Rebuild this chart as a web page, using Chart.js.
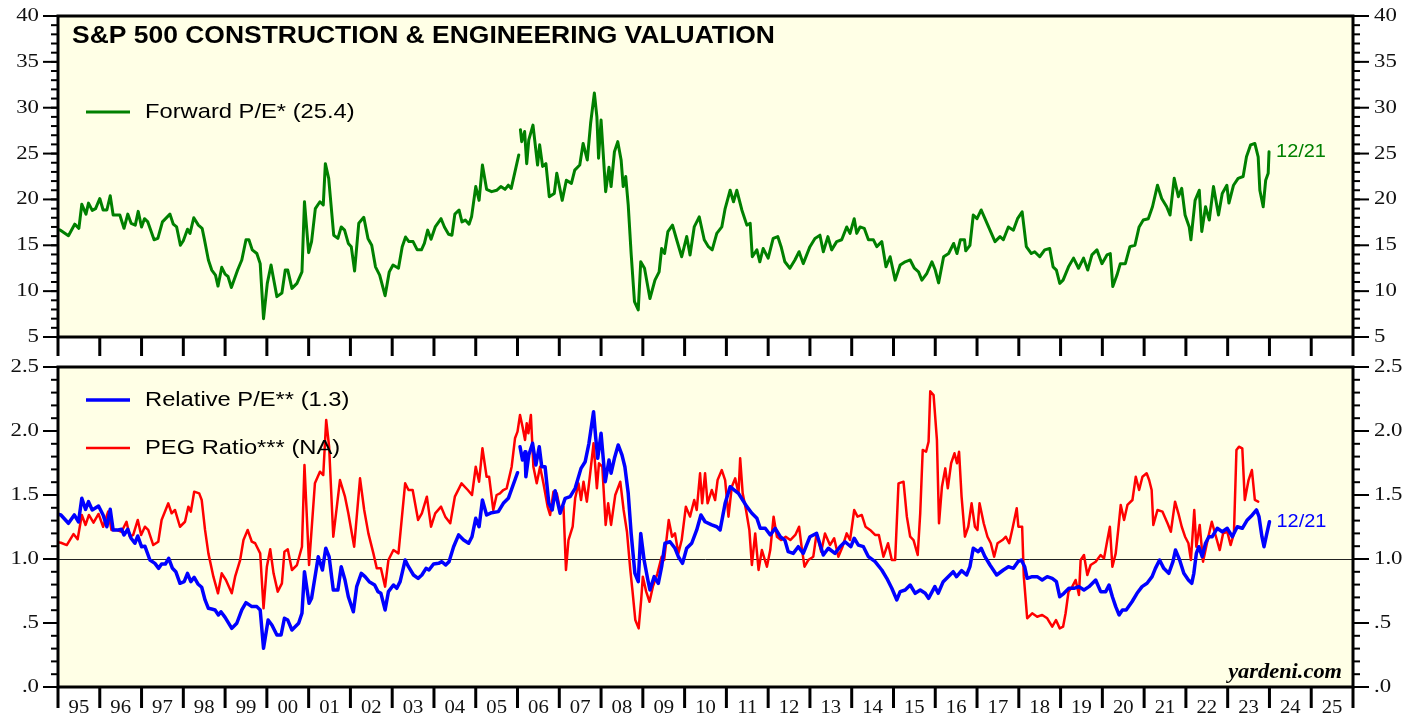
<!DOCTYPE html>
<html>
<head>
<meta charset="utf-8">
<title>S&amp;P 500 Construction &amp; Engineering Valuation</title>
<script src="https://cdn.jsdelivr.net/npm/chart.js@4.4.0/dist/chart.umd.min.js"></script>
<style>
  html, body { margin: 0; padding: 0; background: #fff; }
  #wrap { position: relative; width: 1419px; height: 717px; overflow: hidden; }
  canvas { position: absolute; left: 0; }
  #topChart { top: 0; }
  #bottomChart { top: 345px; }
</style>
</head>
<body>
<div id="wrap">
  <canvas id="topChart" width="1419" height="360"></canvas>
  <canvas id="bottomChart" width="1419" height="372"></canvas>
</div>
<script>
// x axis: one tick per year, labels sit between ticks
const firstYear = 1995;
const yearLabels = ['95','96','97','98','99','00','01','02','03','04','05','06','07','08','09','10',
  '11','12','13','14','15','16','17','18','19','20','21','22','23','24','25'];

const peTicks = [5, 10, 15, 20, 25, 30, 35, 40];
const peTickLabels = ['5', '10', '15', '20', '25', '30', '35', '40'];
const ratioTicks = [0, 0.5, 1, 1.5, 2, 2.5];
const ratioTickLabels = ['.0', '.5', '1.0', '1.5', '2.0', '2.5'];

// [year, value]; null = break in the line
const forwardPE = [
  [1995.00,16.7],[1995.05,16.67],[1995.25,16.05],[1995.40,17.3],[1995.50,16.85],[1995.57,19.47],[1995.67,18.4],[1995.73,19.6],[1995.82,18.8],[1995.90,19.0],
  [1996.00,20.1],[1996.08,18.85],[1996.17,18.85],[1996.25,20.4],[1996.32,18.3],[1996.48,18.3],[1996.58,16.85],[1996.67,18.4],[1996.75,17.4],[1996.85,17.2],[1996.92,18.7],
  [1997.00,17.0],[1997.07,17.9],[1997.15,17.55],[1997.30,15.6],[1997.39,15.75],[1997.50,17.55],[1997.68,18.4],[1997.76,17.3],[1997.84,17.0],[1997.93,15.0],
  [1998.00,15.5],[1998.10,16.75],[1998.16,16.3],[1998.25,18.0],[1998.36,17.2],[1998.45,16.85],[1998.50,15.75],[1998.60,13.4],[1998.68,12.3],[1998.77,11.75],[1998.83,10.55],[1998.92,12.6],
  [1999.00,11.85],[1999.07,11.6],[1999.15,10.4],[1999.30,12.3],[1999.40,13.4],[1999.50,15.6],[1999.57,15.6],[1999.65,14.5],[1999.76,14.1],[1999.84,13.0],[1999.92,7.0],
  [2000.01,10.85],[2000.10,12.85],[2000.15,11.6],[2000.24,9.4],[2000.36,9.8],[2000.44,12.3],[2000.50,12.3],[2000.60,10.3],[2000.72,10.85],[2000.84,12.1],[2000.90,19.75],
  [2001.00,14.2],[2001.07,15.4],[2001.16,19.0],[2001.27,19.75],[2001.35,19.4],[2001.40,23.9],[2001.48,22.3],[2001.60,16.1],[2001.70,15.75],[2001.78,17.0],[2001.86,16.65],[2001.95,15.2],
  [2002.02,14.85],[2002.10,12.2],[2002.20,17.4],[2002.32,18.05],[2002.42,15.75],[2002.51,15.0],[2002.60,12.65],[2002.70,11.75],[2002.83,9.5],[2002.93,12.1],
  [2003.02,12.85],[2003.15,12.5],[2003.24,14.85],[2003.32,15.9],[2003.40,15.4],[2003.50,15.4],[2003.60,14.5],[2003.70,14.5],[2003.77,15.2],[2003.85,16.65],[2003.93,15.65],
  [2004.03,17.0],[2004.17,17.9],[2004.25,17.0],[2004.35,16.2],[2004.43,16.1],[2004.50,18.4],[2004.60,18.85],[2004.67,17.55],[2004.75,17.75],[2004.84,17.3],[2004.90,18.1],
  [2005.00,21.4],[2005.08,19.9],[2005.16,23.75],[2005.26,21.1],[2005.38,20.85],[2005.50,21.0],[2005.60,21.4],[2005.70,21.1],[2005.78,21.55],[2005.85,21.2],[2006.03,24.85],[2006.05,null],
  [2006.07,27.6],[2006.10,26.3],[2006.17,27.4],[2006.22,23.9],[2006.27,26.5],[2006.37,28.1],[2006.48,23.75],[2006.53,25.95],[2006.60,23.6],[2006.68,23.9],[2006.76,20.3],[2006.88,20.65],[2006.94,22.85],
  [2007.07,19.9],[2007.17,22.1],[2007.29,21.75],[2007.37,23.2],[2007.49,23.75],[2007.57,26.1],[2007.67,24.3],[2007.75,28.3],[2007.84,31.6],[2007.90,29.0],[2007.94,24.5],
  [2008.00,28.65],[2008.11,20.85],[2008.19,23.5],[2008.24,21.4],[2008.32,25.2],[2008.40,26.3],[2008.48,24.3],[2008.53,21.4],[2008.59,22.5],[2008.65,19.4],[2008.72,14.1],[2008.80,8.85],[2008.89,7.95],[2008.95,13.2],
  [2009.04,12.5],[2009.17,9.2],[2009.29,11.2],[2009.39,12.1],[2009.45,14.65],[2009.52,14.1],[2009.60,16.5],[2009.71,17.2],[2009.81,15.6],[2009.93,13.75],
  [2010.05,15.95],[2010.13,13.95],[2010.23,17.0],[2010.35,18.1],[2010.47,15.6],[2010.57,14.85],[2010.66,14.5],[2010.77,16.3],[2010.89,17.0],[2010.97,19.0],
  [2011.09,21.0],[2011.17,19.75],[2011.25,21.0],[2011.37,18.85],[2011.49,17.2],[2011.57,17.4],[2011.62,13.75],[2011.73,14.5],[2011.80,13.2],[2011.88,14.65],
  [2012.00,13.6],[2012.12,15.75],[2012.23,15.95],[2012.31,14.85],[2012.40,13.2],[2012.52,12.5],[2012.64,13.4],[2012.74,14.3],[2012.84,13.0],
  [2013.00,14.85],[2013.12,15.75],[2013.24,16.1],[2013.32,14.3],[2013.43,15.95],[2013.52,14.5],[2013.64,15.4],[2013.76,15.6],[2013.88,17.0],[2013.96,16.3],
  [2014.06,17.9],[2014.12,16.3],[2014.20,17.0],[2014.30,16.85],[2014.40,15.6],[2014.52,15.6],[2014.60,14.85],[2014.72,15.4],[2014.82,12.65],[2014.92,13.75],
  [2015.04,11.2],[2015.16,12.85],[2015.28,13.2],[2015.40,13.4],[2015.50,12.5],[2015.60,12.1],[2015.68,11.2],[2015.80,11.95],[2015.92,13.2],
  [2016.00,12.3],[2016.08,10.9],[2016.20,13.75],[2016.32,14.1],[2016.44,15.2],[2016.52,14.1],[2016.60,15.6],[2016.70,15.6],[2016.73,14.4],[2016.83,15.0],[2016.91,18.3],
  [2017.00,17.9],[2017.10,18.85],[2017.19,17.9],[2017.31,16.65],[2017.43,15.4],[2017.55,15.95],[2017.63,15.6],[2017.75,17.0],[2017.87,16.65],[2017.97,17.9],
  [2018.08,18.65],[2018.18,14.85],[2018.30,14.1],[2018.38,14.3],[2018.50,13.75],[2018.62,14.5],[2018.74,14.65],[2018.82,12.65],[2018.90,12.3],[2018.98,10.85],
  [2019.06,11.2],[2019.19,12.65],[2019.31,13.6],[2019.43,12.5],[2019.55,13.6],[2019.65,12.3],[2019.75,13.95],[2019.87,14.5],[2019.99,13.0],
  [2020.11,13.95],[2020.19,14.1],[2020.25,10.5],[2020.35,11.75],[2020.43,13.0],[2020.55,13.0],[2020.66,14.85],[2020.78,15.0],[2020.88,17.0],[2020.98,17.75],
  [2021.10,17.9],[2021.20,19.2],[2021.32,21.55],[2021.42,20.1],[2021.54,19.2],[2021.62,18.3],[2021.72,22.3],[2021.82,20.3],[2021.90,21.2],[2021.98,18.3],
  [2022.08,17.0],[2022.12,15.6],[2022.22,19.9],[2022.32,21.0],[2022.38,16.5],[2022.47,19.2],[2022.56,17.75],[2022.66,21.4],[2022.78,18.3],[2022.87,20.65],[2022.98,21.55],
  [2023.03,19.6],[2023.14,21.55],[2023.25,22.3],[2023.37,22.5],[2023.45,24.65],[2023.55,25.95],[2023.65,26.1],[2023.73,24.65],[2023.77,21.0],[2023.85,19.2],[2023.91,22.1],[2023.97,22.85],[2023.99,25.2]
];

const relativePE = [
  [1995.00,1.35],[1995.07,1.344],[1995.25,1.279],[1995.39,1.344],[1995.49,1.29],[1995.57,1.474],[1995.66,1.388],[1995.73,1.448],[1995.82,1.383],[1995.97,1.414],
  [1996.08,1.344],[1996.17,1.252],[1996.25,1.388],[1996.32,1.227],[1996.44,1.227],[1996.52,1.232],[1996.58,1.188],[1996.67,1.232],[1996.75,1.162],[1996.84,1.123],[1996.91,1.18],
  [1997.00,1.096],[1997.08,1.1],[1997.20,0.992],[1997.32,0.966],[1997.41,0.927],[1997.48,0.961],[1997.57,0.961],[1997.65,1.005],[1997.74,0.927],[1997.82,0.901],[1997.92,0.81],
  [1998.02,0.823],[1998.10,0.888],[1998.18,0.823],[1998.26,0.857],[1998.35,0.805],[1998.44,0.779],[1998.52,0.68],[1998.60,0.615],[1998.70,0.607],[1998.76,0.602],[1998.84,0.563],[1998.90,0.588],
  [1999.00,0.544],[1999.16,0.458],[1999.28,0.498],[1999.40,0.602],[1999.50,0.659],[1999.64,0.628],[1999.76,0.628],[1999.84,0.602],[1999.92,0.302],
  [2000.03,0.523],[2000.12,0.484],[2000.24,0.406],[2000.34,0.406],[2000.42,0.537],[2000.50,0.523],[2000.60,0.445],[2000.76,0.498],[2000.84,0.576],[2000.90,0.901],
  [2001.01,0.654],[2001.07,0.693],[2001.23,1.018],[2001.33,0.914],[2001.41,1.084],[2001.49,1.018],[2001.59,0.758],[2001.70,0.758],[2001.78,0.94],[2001.87,0.836],[2001.95,0.705],
  [2002.07,0.588],[2002.15,0.784],[2002.26,0.888],[2002.35,0.862],[2002.45,0.823],[2002.58,0.797],[2002.66,0.745],[2002.73,0.732],[2002.83,0.602],[2002.91,0.745],
  [2003.03,0.797],[2003.11,0.771],[2003.19,0.823],[2003.31,0.992],[2003.39,0.94],[2003.51,0.875],[2003.62,0.849],[2003.71,0.875],[2003.81,0.927],[2003.88,0.914],[2003.99,0.961],
  [2004.11,0.966],[2004.19,0.979],[2004.28,0.953],[2004.36,0.979],[2004.47,1.096],[2004.59,1.188],[2004.71,1.148],[2004.83,1.123],[2004.91,1.174],
  [2005.00,1.318],[2005.08,1.252],[2005.16,1.461],[2005.26,1.344],[2005.38,1.362],[2005.54,1.37],[2005.66,1.435],[2005.78,1.474],[2006.00,1.674],[2006.03,null],
  [2006.06,1.877],[2006.12,1.773],[2006.18,1.838],[2006.20,1.643],[2006.27,1.813],[2006.36,1.904],[2006.44,1.734],[2006.52,1.877],[2006.58,1.721],[2006.66,1.721],[2006.75,1.435],[2006.83,1.383],[2006.90,1.534],
  [2007.02,1.357],[2007.14,1.474],[2007.26,1.487],[2007.38,1.552],[2007.52,1.708],[2007.62,1.76],[2007.71,1.904],[2007.82,2.151],[2007.87,1.955],[2007.92,1.787],
  [2008.00,1.982],[2008.10,1.604],[2008.19,1.773],[2008.24,1.67],[2008.32,1.787],[2008.41,1.891],[2008.50,1.813],[2008.57,1.721],[2008.65,1.513],[2008.72,1.2],[2008.81,0.888],[2008.89,0.823],[2008.95,1.2],
  [2009.03,0.992],[2009.12,0.836],[2009.17,0.758],[2009.27,0.862],[2009.37,0.81],[2009.45,0.94],[2009.53,1.123],[2009.65,1.135],[2009.77,1.084],[2009.85,1.018],[2009.95,0.966],
  [2010.05,1.084],[2010.17,1.123],[2010.29,1.227],[2010.39,1.344],[2010.49,1.291],[2010.65,1.266],[2010.77,1.252],[2010.85,1.227],[2010.97,1.435],
  [2011.09,1.565],[2011.19,1.539],[2011.29,1.513],[2011.39,1.461],[2011.49,1.409],[2011.61,1.357],[2011.73,1.318],[2011.81,1.24],[2011.93,1.24],
  [2012.05,1.188],[2012.17,1.24],[2012.29,1.174],[2012.40,1.148],[2012.48,1.057],[2012.60,1.044],[2012.72,1.096],[2012.84,1.044],
  [2013.00,1.174],[2013.16,1.2],[2013.32,1.031],[2013.44,1.084],[2013.60,1.044],[2013.72,1.096],[2013.84,1.135],[2013.98,1.096],
  [2014.06,1.162],[2014.16,1.109],[2014.28,1.096],[2014.40,1.018],[2014.56,0.979],[2014.72,0.914],[2014.84,0.849],[2014.96,0.771],
  [2015.08,0.68],[2015.16,0.745],[2015.28,0.758],[2015.40,0.797],[2015.52,0.732],[2015.64,0.758],[2015.76,0.732],[2015.84,0.693],[2015.99,0.784],
  [2016.07,0.732],[2016.19,0.823],[2016.31,0.862],[2016.43,0.901],[2016.51,0.862],[2016.63,0.909],[2016.75,0.875],[2016.83,0.94],[2016.91,1.084],
  [2017.03,1.057],[2017.10,1.084],[2017.19,1.018],[2017.31,0.953],[2017.47,0.875],[2017.63,0.914],[2017.75,0.94],[2017.87,0.927],[2017.98,0.979],
  [2018.06,0.992],[2018.14,0.94],[2018.20,0.849],[2018.32,0.862],[2018.44,0.862],[2018.56,0.836],[2018.68,0.862],[2018.80,0.849],[2018.90,0.823],[2018.98,0.705],
  [2019.08,0.732],[2019.20,0.771],[2019.32,0.771],[2019.44,0.784],[2019.56,0.758],[2019.68,0.784],[2019.84,0.836],[2019.96,0.745],
  [2020.08,0.745],[2020.16,0.797],[2020.24,0.705],[2020.32,0.628],[2020.40,0.563],[2020.48,0.602],[2020.57,0.602],[2020.71,0.666],[2020.83,0.732],[2020.95,0.784],
  [2021.07,0.81],[2021.19,0.862],[2021.27,0.927],[2021.37,0.992],[2021.47,0.927],[2021.59,0.888],[2021.69,0.979],[2021.75,1.07],[2021.85,0.992],[2021.95,0.888],
  [2022.06,0.836],[2022.14,0.81],[2022.19,0.888],[2022.25,1.044],[2022.31,1.096],[2022.39,1.018],[2022.47,1.123],[2022.55,1.174],[2022.63,1.174],[2022.75,1.24],[2022.87,1.213],[2022.99,1.24],
  [2023.11,1.174],[2023.23,1.252],[2023.35,1.24],[2023.47,1.305],[2023.59,1.344],[2023.69,1.383],[2023.75,1.331],[2023.82,1.174],[2023.87,1.096],[2023.93,1.188],[2024.00,1.291]
];

const pegRatio = [
  [1995.00,1.13],[1995.07,1.127],[1995.21,1.109],[1995.37,1.195],[1995.47,1.154],[1995.57,1.344],[1995.66,1.266],[1995.74,1.344],[1995.85,1.284],[1995.97,1.352],
  [1996.08,1.252],[1996.20,1.37],[1996.28,1.227],[1996.40,1.227],[1996.52,1.213],[1996.64,1.291],[1996.72,1.174],[1996.80,1.188],[1996.91,1.305],[1996.99,1.188],
  [1997.08,1.252],[1997.16,1.227],[1997.28,1.109],[1997.40,1.135],[1997.48,1.305],[1997.64,1.435],[1997.72,1.357],[1997.80,1.383],[1997.92,1.252],
  [1998.04,1.291],[1998.12,1.409],[1998.18,1.37],[1998.26,1.526],[1998.38,1.513],[1998.44,1.461],[1998.52,1.227],[1998.60,1.044],[1998.72,0.862],[1998.83,0.732],[1998.92,0.888],
  [1999.02,0.836],[1999.16,0.732],[1999.24,0.862],[1999.36,0.992],[1999.44,1.148],[1999.54,1.227],[1999.64,1.135],[1999.72,1.123],[1999.84,1.044],[1999.92,0.615],
  [2000.00,0.94],[2000.08,1.076],[2000.16,0.888],[2000.26,0.745],[2000.36,0.81],[2000.42,1.057],[2000.50,1.076],[2000.60,0.914],[2000.72,0.953],[2000.84,1.096],[2000.90,1.734],
  [2001.01,0.953],[2001.15,1.591],[2001.27,1.682],[2001.35,1.656],[2001.42,2.086],[2001.49,1.877],[2001.59,1.174],[2001.75,1.617],[2001.87,1.487],[2001.95,1.357],
  [2002.09,1.096],[2002.23,1.63],[2002.33,1.383],[2002.43,1.2],[2002.55,1.044],[2002.63,0.927],[2002.73,0.927],[2002.83,0.784],[2002.91,0.992],
  [2003.03,1.07],[2003.15,1.044],[2003.31,1.591],[2003.39,1.539],[2003.49,1.539],[2003.62,1.305],[2003.71,1.357],[2003.83,1.487],[2003.93,1.252],
  [2004.03,1.357],[2004.17,1.409],[2004.27,1.331],[2004.39,1.279],[2004.50,1.487],[2004.66,1.591],[2004.81,1.539],[2004.91,1.5],
  [2005.00,1.721],[2005.08,1.604],[2005.16,1.865],[2005.26,1.643],[2005.32,1.643],[2005.42,1.383],[2005.50,1.5],[2005.58,1.513],[2005.66,1.539],[2005.74,1.552],[2005.86,1.721],[2005.94,1.943],
  [2006.00,1.995],[2006.06,2.125],[2006.12,2.034],[2006.18,1.93],[2006.22,2.06],[2006.26,1.982],[2006.32,2.125],[2006.38,1.721],[2006.46,1.591],[2006.54,1.721],[2006.62,1.591],[2006.72,1.409],[2006.78,1.344],[2006.86,1.526],[2006.94,1.513],
  [2007.02,1.383],[2007.10,1.409],[2007.16,0.914],[2007.22,1.148],[2007.32,1.252],[2007.38,1.474],[2007.46,1.591],[2007.52,1.461],[2007.58,1.604],[2007.66,1.448],[2007.74,1.67],[2007.82,1.904],[2007.90,1.552],[2007.95,1.748],
  [2008.03,1.721],[2008.11,1.266],[2008.17,1.435],[2008.24,1.266],[2008.34,1.5],[2008.46,1.604],[2008.54,1.383],[2008.62,1.213],[2008.70,0.914],[2008.75,0.758],[2008.82,0.523],[2008.90,0.458],[2008.96,0.68],
  [2009.00,0.862],[2009.08,0.745],[2009.16,0.666],[2009.24,0.784],[2009.35,0.888],[2009.45,1.018],[2009.51,0.992],[2009.62,1.305],[2009.70,1.174],[2009.77,1.2],[2009.85,1.044],[2009.93,1.148],
  [2010.03,1.409],[2010.13,1.331],[2010.23,1.461],[2010.29,1.383],[2010.37,1.67],[2010.42,1.435],[2010.49,1.67],[2010.55,1.435],[2010.65,1.539],[2010.73,1.461],[2010.79,1.617],[2010.89,1.695],[2010.97,1.617],
  [2011.05,1.331],[2011.13,1.565],[2011.21,1.63],[2011.29,1.513],[2011.33,1.787],[2011.39,1.513],[2011.47,1.383],[2011.55,1.227],[2011.61,0.953],[2011.69,1.2],[2011.77,0.914],[2011.85,1.07],[2011.97,0.94],
  [2012.05,1.07],[2012.13,1.331],[2012.21,1.174],[2012.31,1.148],[2012.42,1.174],[2012.53,1.148],[2012.65,1.188],[2012.74,1.252],[2012.80,1.096],[2012.87,0.94],[2012.96,0.992],
  [2013.08,1.018],[2013.16,1.2],[2013.27,1.057],[2013.36,1.2],[2013.48,1.109],[2013.58,1.162],[2013.68,1.018],[2013.78,1.096],[2013.88,1.2],[2013.96,1.148],
  [2014.06,1.383],[2014.14,1.331],[2014.24,1.344],[2014.33,1.252],[2014.44,1.227],[2014.56,1.188],[2014.65,1.188],[2014.76,1.018],[2014.87,1.123],[2014.96,0.992],
  [2015.04,0.992],[2015.12,1.591],[2015.24,1.604],[2015.32,1.331],[2015.40,1.174],[2015.48,1.148],[2015.58,1.031],[2015.64,1.357],[2015.70,1.852],[2015.78,1.838],[2015.84,1.916],[2015.88,2.31],[2015.96,2.28],
  [2016.04,1.93],[2016.09,1.279],[2016.16,1.565],[2016.24,1.708],[2016.30,1.552],[2016.38,1.748],[2016.46,1.826],[2016.52,1.748],[2016.57,1.838],[2016.63,1.487],[2016.71,1.174],[2016.79,1.252],[2016.87,1.435],[2016.95,1.252],
  [2017.01,1.227],[2017.06,1.435],[2017.16,1.279],[2017.25,1.174],[2017.33,1.123],[2017.41,1.018],[2017.49,1.123],[2017.61,1.148],[2017.69,1.174],[2017.77,1.123],[2017.85,1.24],[2017.95,1.396],[2017.99,1.252],
  [2018.08,1.252],[2018.12,0.862],[2018.20,0.537],[2018.32,0.576],[2018.44,0.549],[2018.56,0.563],[2018.68,0.537],[2018.80,0.471],[2018.89,0.523],[2018.98,0.458],
  [2019.06,0.471],[2019.12,0.576],[2019.19,0.745],[2019.28,0.784],[2019.36,0.836],[2019.44,0.719],[2019.48,0.992],[2019.56,1.031],[2019.64,0.875],[2019.72,0.953],[2019.84,0.979],[2019.96,1.031],
  [2020.04,1.005],[2020.12,1.148],[2020.18,1.252],[2020.24,0.94],[2020.32,1.044],[2020.38,1.227],[2020.44,1.422],[2020.52,1.305],[2020.60,1.422],[2020.72,1.461],[2020.80,1.643],[2020.88,1.539],[2020.96,1.643],
  [2021.06,1.67],[2021.12,1.617],[2021.18,1.539],[2021.22,1.266],[2021.32,1.383],[2021.44,1.37],[2021.56,1.279],[2021.64,1.213],[2021.74,1.448],[2021.82,1.357],[2021.90,1.252],[2021.98,1.174],
  [2022.06,1.123],[2022.12,0.992],[2022.20,1.383],[2022.25,1.096],[2022.33,1.266],[2022.41,0.979],[2022.52,1.148],[2022.62,1.291],[2022.72,1.174],[2022.81,1.07],[2022.89,1.2],[2022.99,1.213],
  [2023.07,1.109],[2023.15,1.2],[2023.21,1.852],[2023.27,1.877],[2023.35,1.865],[2023.41,1.461],[2023.50,1.617],[2023.58,1.695],[2023.65,1.461],[2023.73,1.448]
];

function toPoints(pairs) {
  return pairs.map(p => ({ x: p[0], y: p[1] }));
}

// text helper: the reference type is a little wider than ours, so stretch it
function drawText(ctx, str, x, y, font, color, align, sx) {
  ctx.save();
  ctx.font = font;
  ctx.fillStyle = color;
  ctx.textAlign = align;
  ctx.textBaseline = 'middle';
  ctx.translate(x, y);
  ctx.scale(sx || 1, 1);
  ctx.fillText(str, 0, 0);
  ctx.restore();
}

function seg(ctx, x1, y1, x2, y2) {
  ctx.beginPath();
  ctx.moveTo(x1, y1);
  ctx.lineTo(x2, y2);
  ctx.stroke();
}

const panelDecor = {
  id: 'panelDecor',
  beforeDraw(chart) {
    const { ctx, chartArea: a } = chart;
    ctx.save();
    ctx.fillStyle = '#ffffe6';
    ctx.fillRect(a.left, a.top, a.right - a.left, a.bottom - a.top);
    ctx.restore();
  },
  beforeDatasetsDraw(chart, args, o) {
    if (o.refLine === null || o.refLine === undefined) return;
    const { ctx, chartArea: a } = chart;
    const py = Math.round(chart.scales.y.getPixelForValue(o.refLine)) + 0.5;
    ctx.save();
    ctx.strokeStyle = '#222';
    ctx.lineWidth = 1;
    seg(ctx, a.left, py, a.right, py);
    ctx.restore();
  },
  afterDraw(chart, args, o) {
    const { ctx, chartArea: a } = chart;
    const x = chart.scales.x, y = chart.scales.y;
    const tickFont = '19px "Liberation Serif"';
    ctx.save();
    ctx.strokeStyle = '#000';

    // minor y ticks, both sides
    ctx.lineWidth = 2;
    const nMinor = Math.round((y.max - y.min) / o.minorStep);
    for (let i = 0; i <= nMinor; i++) {
      const py = y.getPixelForValue(y.min + i * o.minorStep);
      seg(ctx, a.left - 7, py, a.left, py);
      seg(ctx, a.right, py, a.right + 7, py);
    }
    // major y ticks + labels
    o.yTicks.forEach((v, i) => {
      const py = y.getPixelForValue(v);
      seg(ctx, a.left - 15, py, a.left, py);
      seg(ctx, a.right, py, a.right + 16, py);
      drawText(ctx, o.yLabels[i], a.left - 19, py, tickFont, '#111', 'right', 1.2);
      drawText(ctx, o.yLabels[i], a.right + 21, py, tickFont, '#111', 'left', 1.2);
    });

    // year ticks
    ctx.lineWidth = 3;
    for (let i = 0; i <= yearLabels.length; i++) {
      const px = x.getPixelForValue(firstYear + i);
      seg(ctx, px, a.bottom, px, a.bottom + o.xTickLen);
    }
    if (o.showYears) {
      yearLabels.forEach((lab, i) => {
        const px = (x.getPixelForValue(firstYear + i) + x.getPixelForValue(firstYear + i + 1)) / 2;
        drawText(ctx, lab, px, a.bottom + 21, '18px "Liberation Serif"', '#111', 'center', 1.15);
      });
    }

    // frame
    ctx.lineWidth = 3;
    ctx.strokeRect(a.left, a.top, a.right - a.left, a.bottom - a.top);

    if (o.title) {
      drawText(ctx, o.title, a.left + 14, a.top + 21, 'bold 23px "Liberation Sans"', '#000', 'left', 1.15);
    }

    // legend inside the panel
    chart.data.datasets.forEach((ds, i) => {
      const ly = a.top + o.legendTop + i * 48;
      ctx.strokeStyle = ds.borderColor;
      ctx.lineWidth = ds.borderWidth;
      seg(ctx, a.left + 28, ly, a.left + 72, ly);
      drawText(ctx, ds.label, a.left + 87, ly, '21px "Liberation Sans"', '#000', 'left', 1.13);
    });

    // date tag at the end of a line
    if (o.endLabel) {
      const meta = chart.getDatasetMeta(o.endLabel.dataset);
      const last = meta.data[meta.data.length - 1];
      drawText(ctx, o.endLabel.text, last.x + 7, last.y, '19px "Liberation Sans"',
        chart.data.datasets[o.endLabel.dataset].borderColor, 'left', 1.05);
    }

    if (o.watermark) {
      drawText(ctx, o.watermark, a.right - 11, a.bottom - 14, 'italic bold 20px "Liberation Serif"', '#000', 'right', 1.12);
    }
    ctx.restore();
  }
};

function makeChart(id, datasets, yMin, yMax, padding, decor) {
  return new Chart(document.getElementById(id), {
    type: 'line',
    data: { datasets: datasets },
    options: {
      responsive: false,
      animation: false,
      devicePixelRatio: 1,
      layout: { padding: padding },
      scales: {
        x: { type: 'linear', display: false, min: 1995, max: 2026 },
        y: { type: 'linear', display: false, min: yMin, max: yMax }
      },
      elements: {
        point: { radius: 0 },
        line: { tension: 0, borderJoinStyle: 'round', borderCapStyle: 'round' }
      },
      plugins: {
        legend: { display: false },
        tooltip: { enabled: false },
        panelDecor: decor
      }
    },
    plugins: [panelDecor]
  });
}

makeChart('topChart', [
  { label: 'Forward P/E* (25.4)', data: toPoints(forwardPE), borderColor: '#008000', borderWidth: 3, spanGaps: false }
], 5, 40, { left: 58, right: 66, top: 16, bottom: 23 }, {
  yTicks: peTicks, yLabels: peTickLabels, minorStep: 1, xTickLen: 19, showYears: false,
  title: 'S&P 500 CONSTRUCTION & ENGINEERING VALUATION', legendTop: 96,
  endLabel: { dataset: 0, text: '12/21' }
});

makeChart('bottomChart', [
  { label: 'Relative P/E** (1.3)', data: toPoints(relativePE), borderColor: '#0000ff', borderWidth: 3.5, spanGaps: false },
  { label: 'PEG Ratio*** (NA)', data: toPoints(pegRatio), borderColor: '#ff0000', borderWidth: 2.5, spanGaps: false }
], 0, 2.5, { left: 58, right: 66, top: 22, bottom: 30 }, {
  yTicks: ratioTicks, yLabels: ratioTickLabels, minorStep: 0.1, xTickLen: 21, showYears: true,
  refLine: 1, legendTop: 33,
  endLabel: { dataset: 0, text: '12/21' }, watermark: 'yardeni.com'
});
</script>
</body>
</html>
